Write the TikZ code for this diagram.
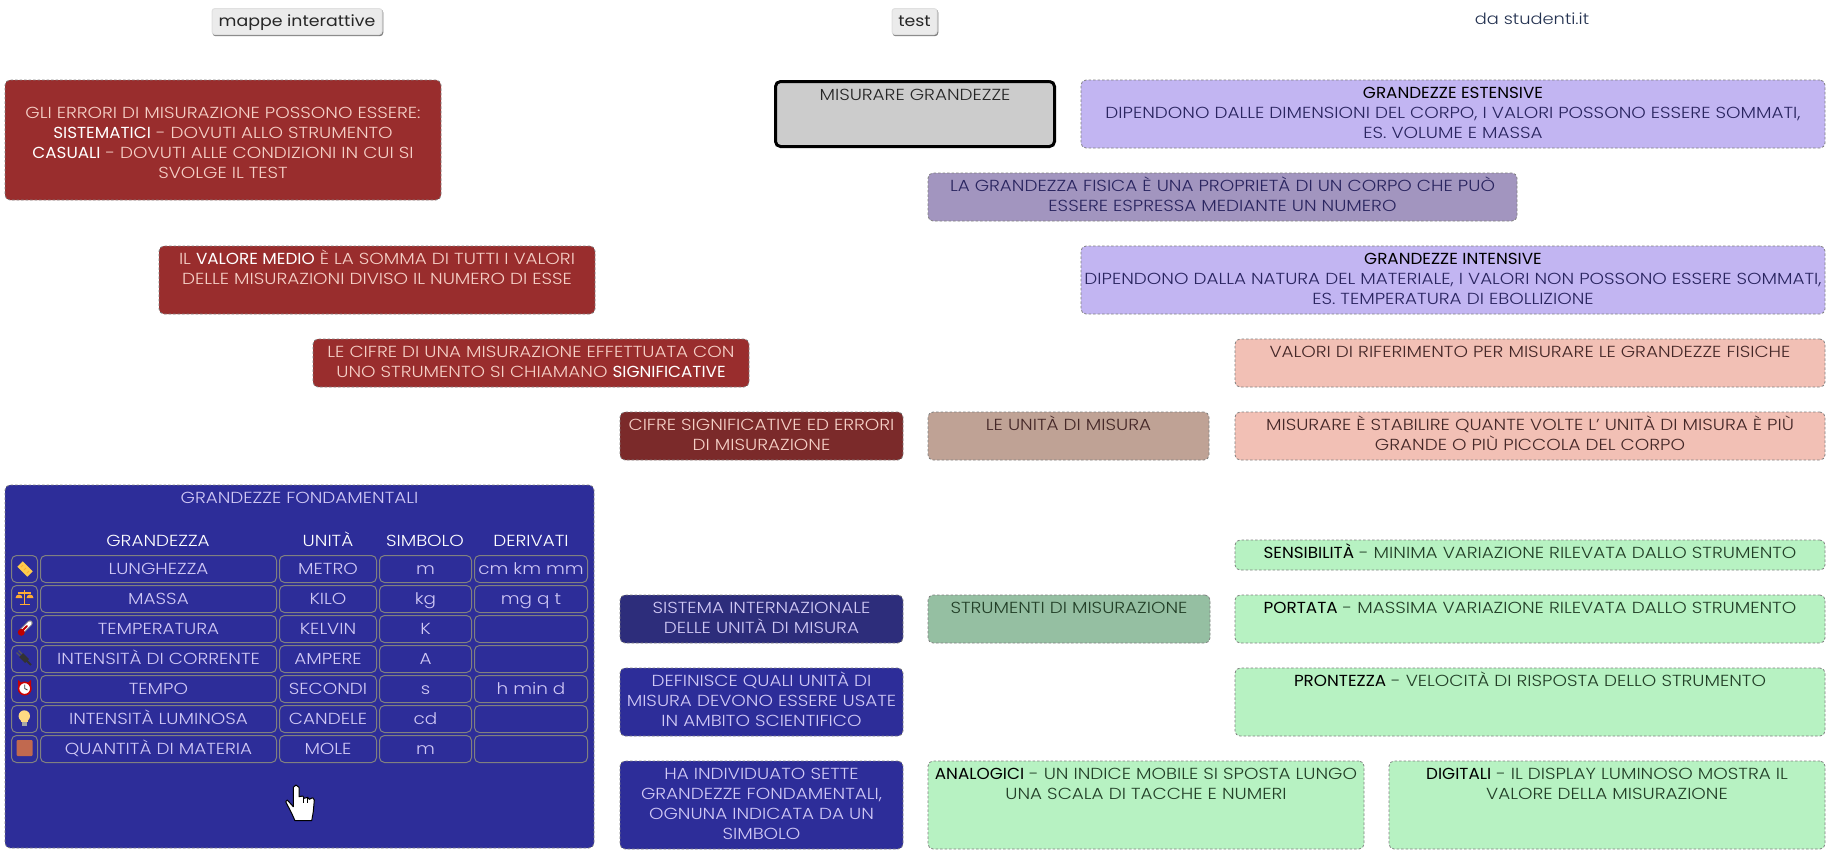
\documentclass[tikz,border=0pt]{standalone}
\usepackage{fontspec}
\setmainfont{Poppins Light}[FakeStretch=1.15,BoldFont=Poppins,BoldFeatures={FakeStretch=1.05}]
\newfontfamily\buttonfont{Poppins}[FakeStretch=1.12]
\definecolor{rosso}{HTML}{992D2D}
\definecolor{rossoscuro}{HTML}{7B2A2A}
\definecolor{lilla}{HTML}{C2B5F2}
\definecolor{lillascuro}{HTML}{A295BF}
\definecolor{rosa}{HTML}{F2C0B5}
\definecolor{rosascuro}{HTML}{BFA295}
\definecolor{verde}{HTML}{B7F2C2}
\definecolor{verdescuro}{HTML}{95BFA2}
\definecolor{blu}{HTML}{2D2D99}
\definecolor{bluscuro}{HTML}{2D2D7B}
\definecolor{grigio}{HTML}{808080}
\definecolor{testolilla}{HTML}{2A2560}
\definecolor{testorosa}{HTML}{452828}
\definecolor{testoverde}{HTML}{234028}
\definecolor{testosito}{HTML}{22304F}
\definecolor{chiarorosa}{HTML}{F5CFC6}
\definecolor{chiarolilla}{HTML}{D0C8F5}
\definecolor{giallo}{HTML}{FFCC4D}
\definecolor{arancio}{HTML}{FFAC33}
\definecolor{lampada}{HTML}{FFD983}
\definecolor{mattone}{HTML}{C1694F}
\newcommand{\wh}[1]{\textcolor{white}{\textbf{#1}}}
\newcommand{\bk}[1]{\textcolor{black}{\textbf{#1}}}
\tikzset{
  boxbase/.style={draw=grigio,line width=.8pt,dash pattern=on 2.5pt off 2pt,rounded corners=5pt,
    anchor=north west,align=center,inner sep=0pt,outer sep=0pt,
    font=\fontsize{16}{20}\selectfont},
  boxsize/.style n args={3}{minimum width=#1pt,text height=#2pt,text depth=#3pt},
  redbox/.style={boxbase,fill=rosso,text=chiarorosa},
  lilacbox/.style={boxbase,fill=lilla,text=testolilla},
  pinkbox/.style={boxbase,fill=rosa,text=testorosa},
  greenbox/.style={boxbase,fill=verde,text=testoverde},
  bluebox/.style={boxbase,fill=blu,text=chiarolilla},
  cell/.style={draw=grigio,line width=1pt,rounded corners=5pt,anchor=north west,inner sep=0pt,outer sep=0pt,
    minimum height=27pt,text height=12.5pt,text depth=2.5pt,text=chiarolilla,font=\fontsize{16}{20}\selectfont},
  headcell/.style={anchor=base,inner sep=0pt,text=white,font=\fontsize{16}{20}\selectfont},
  button/.style={draw=black!12,line width=1pt,fill=black!8,rounded corners=3pt,anchor=north west,inner sep=0pt,outer sep=0pt,
    minimum height=26pt,text height=13pt,text depth=3pt,text=black!85,font=\buttonfont\fontsize{15.5}{20}\selectfont,
    preaction={draw=black!50,fill=black!50,transform canvas={xshift=.8pt,yshift=-1.2pt}}}
}
\begin{document}
\begin{tikzpicture}[x=1pt,y=-1pt]
  \useasboundingbox (0,0) rectangle (1831,855);
  %Intestazione
  \node (mappe) [button,minimum width=170pt] at (212,8.5) {mappe interattive};
  \node (test) [button,minimum width=45pt] at (892,8.5) {test};
  \node (sito) [anchor=base,inner sep=0pt,text=testosito,font=\fontsize{15.5}{20}\selectfont] at (1532,24) {da studenti.it};
  %Errori
  \node (errori) [redbox,boxsize={436}{98.5}{21.5}] at (5,80) {GLI ERRORI DI MISURAZIONE POSSONO ESSERE:\\
    \wh{SISTEMATICI} - DOVUTI ALLO STRUMENTO\\
    \wh{CASUALI} - DOVUTI ALLE CONDIZIONI IN CUI SI\\
    SVOLGE IL TEST};
  \node (medio) [redbox,boxsize={436}{38.5}{29.5}] at (159,246) {IL \wh{VALORE MEDIO} È LA SOMMA DI TUTTI I VALORI\\
    DELLE MISURAZIONI DIVISO IL NUMERO DI ESSE};
  \node (cifre) [redbox,boxsize={436}{38.5}{9.5}] at (313,339) {LE CIFRE DI UNA MISURAZIONE EFFETTUATA CON\\
    UNO STRUMENTO SI CHIAMANO \wh{SIGNIFICATIVE}};
  \node (cifreerrori) [redbox,fill=rossoscuro,boxsize={283}{38.5}{9.5}] at (620,412) {CIFRE SIGNIFICATIVE ED ERRORI\\ DI MISURAZIONE};
  %Grandezze
  \node (misurare) [boxbase,draw=black,line width=3pt,dash pattern=on 100pt off 0pt,fill=black!20,boxsize={279}{19}{46},text=black!85] at (775.5,81.5) {MISURARE GRANDEZZE};
  \node (estensive) [lilacbox,boxsize={744}{58.5}{9.5}] at (1081,80) {\bk{GRANDEZZE ESTENSIVE}\\
    DIPENDONO DALLE DIMENSIONI DEL CORPO, I VALORI POSSONO ESSERE SOMMATI,\\
    ES. VOLUME E MASSA};
  \node (fisica) [lilacbox,fill=lillascuro,boxsize={589}{38.5}{9.5}] at (928,173) {LA GRANDEZZA FISICA È UNA PROPRIETÀ DI UN CORPO CHE PUÒ\\
    ESSERE ESPRESSA MEDIANTE UN NUMERO};
  \node (intensive) [lilacbox,boxsize={744}{58.5}{9.5}] at (1081,246) {\bk{GRANDEZZE INTENSIVE}\\
    DIPENDONO DALLA NATURA DEL MATERIALE, I VALORI NON POSSONO ESSERE SOMMATI,\\
    ES. TEMPERATURA DI EBOLLIZIONE};
  %Unita di misura
  \node (valori) [pinkbox,boxsize={590}{18.5}{29.5}] at (1235,339) {VALORI DI RIFERIMENTO PER MISURARE LE GRANDEZZE FISICHE};
  \node (unita) [pinkbox,fill=rosascuro,boxsize={281}{18.5}{29.5}] at (928,412) {LE UNITÀ DI MISURA};
  \node (stabilire) [pinkbox,boxsize={590}{38.5}{9.5}] at (1235,412) {MISURARE È STABILIRE QUANTE VOLTE L' UNITÀ DI MISURA È PIÙ\\
    GRANDE O PIÙ PICCOLA DEL CORPO};
  %Strumenti
  \node (sensibilita) [greenbox,boxsize={590}{18.5}{11.5}] at (1235,540) {\bk{SENSIBILITÀ} - MINIMA VARIAZIONE RILEVATA DALLO STRUMENTO};
  \node (strumenti) [greenbox,fill=verdescuro,boxsize={282}{18.5}{29.5}] at (928,595) {STRUMENTI DI MISURAZIONE};
  \node (portata) [greenbox,boxsize={590}{18.5}{29.5}] at (1235,595) {\bk{PORTATA} - MASSIMA VARIAZIONE RILEVATA DALLO STRUMENTO};
  \node (prontezza) [greenbox,boxsize={590}{18.5}{49.5}] at (1235,668) {\bk{PRONTEZZA} - VELOCITÀ DI RISPOSTA DELLO STRUMENTO};
  \node (analogici) [greenbox,boxsize={436}{38.5}{49.5}] at (928,761) {\bk{ANALOGICI} - UN INDICE MOBILE SI SPOSTA LUNGO\\
    UNA SCALA DI TACCHE E NUMERI};
  \node (digitali) [greenbox,boxsize={436}{38.5}{49.5}] at (1389,761) {\bk{DIGITALI} - IL DISPLAY LUMINOSO MOSTRA IL\\
    VALORE DELLA MISURAZIONE};
  %Sistema internazionale
  \node (sistema) [bluebox,fill=bluscuro,boxsize={283}{38.5}{9.5}] at (620,595) {SISTEMA INTERNAZIONALE\\ DELLE UNITÀ DI MISURA};
  \node (definisce) [bluebox,boxsize={283}{58.5}{9.5}] at (620,668) {DEFINISCE QUALI UNITÀ DI\\ MISURA DEVONO ESSERE USATE\\ IN AMBITO SCIENTIFICO};
  \node (sette) [bluebox,boxsize={283}{78.5}{9.5}] at (620,761) {HA INDIVIDUATO SETTE\\ GRANDEZZE FONDAMENTALI,\\ OGNUNA INDICATA DA UN\\ SIMBOLO};
  %Tabella
  \node (fondamentali) [bluebox,boxsize={589}{18.5}{344.5}] at (5,485) {GRANDEZZE FONDAMENTALI};
  \node (hgrandezza) [headcell] at (158,546) {GRANDEZZA};
  \node (hunita) [headcell] at (328,546) {UNITÀ};
  \node (hsimbolo) [headcell] at (425,546) {SIMBOLO};
  \node (hderivati) [headcell] at (531,546) {DERIVATI};
  %riga 1
  \node (i1) [cell,minimum width=26pt] at (11.5,555.5) {};
  \node (g1) [cell,minimum width=236pt] at (40.5,555.5) {LUNGHEZZA};
  \node (u1) [cell,minimum width=97pt] at (279.5,555.5) {METRO};
  \node (s1) [cell,minimum width=92pt] at (379.5,555.5) {m};
  \node (d1) [cell,minimum width=113pt] at (474.5,555.5) {cm km mm};
  %riga 2
  \node (i2) [cell,minimum width=26pt] at (11.5,585.5) {};
  \node (g2) [cell,minimum width=236pt] at (40.5,585.5) {MASSA};
  \node (u2) [cell,minimum width=97pt] at (279.5,585.5) {KILO};
  \node (s2) [cell,minimum width=92pt] at (379.5,585.5) {kg};
  \node (d2) [cell,minimum width=113pt] at (474.5,585.5) {mg q t};
  %riga 3
  \node (i3) [cell,minimum width=26pt] at (11.5,615.5) {};
  \node (g3) [cell,minimum width=236pt] at (40.5,615.5) {TEMPERATURA};
  \node (u3) [cell,minimum width=97pt] at (279.5,615.5) {KELVIN};
  \node (s3) [cell,minimum width=92pt] at (379.5,615.5) {K};
  \node (d3) [cell,minimum width=113pt] at (474.5,615.5) {};
  %riga 4
  \node (i4) [cell,minimum width=26pt] at (11.5,645.5) {};
  \node (g4) [cell,minimum width=236pt] at (40.5,645.5) {INTENSITÀ DI CORRENTE};
  \node (u4) [cell,minimum width=97pt] at (279.5,645.5) {AMPERE};
  \node (s4) [cell,minimum width=92pt] at (379.5,645.5) {A};
  \node (d4) [cell,minimum width=113pt] at (474.5,645.5) {};
  %riga 5
  \node (i5) [cell,minimum width=26pt] at (11.5,675.5) {};
  \node (g5) [cell,minimum width=236pt] at (40.5,675.5) {TEMPO};
  \node (u5) [cell,minimum width=97pt] at (279.5,675.5) {SECONDI};
  \node (s5) [cell,minimum width=92pt] at (379.5,675.5) {s};
  \node (d5) [cell,minimum width=113pt] at (474.5,675.5) {h min d};
  %riga 6
  \node (i6) [cell,minimum width=26pt] at (11.5,705.5) {};
  \node (g6) [cell,minimum width=236pt] at (40.5,705.5) {INTENSITÀ LUMINOSA};
  \node (u6) [cell,minimum width=97pt] at (279.5,705.5) {CANDELE};
  \node (s6) [cell,minimum width=92pt] at (379.5,705.5) {cd};
  \node (d6) [cell,minimum width=113pt] at (474.5,705.5) {};
  %riga 7
  \node (i7) [cell,minimum width=26pt] at (11.5,735.5) {};
  \node (g7) [cell,minimum width=236pt] at (40.5,735.5) {QUANTITÀ DI MATERIA};
  \node (u7) [cell,minimum width=97pt] at (279.5,735.5) {MOLE};
  \node (s7) [cell,minimum width=92pt] at (379.5,735.5) {m};
  \node (d7) [cell,minimum width=113pt] at (474.5,735.5) {};
  %Icone
    %righello
    \draw [line width=7.5pt,giallo] (20,564) -- (30,574);
    \draw [line width=1pt,arancio] (21,567) -- (23,565);
    \draw [line width=1pt,arancio] (24,570) -- (26,568);
    \draw [line width=1pt,arancio] (27,573) -- (29,571);
    %bilancia
    \draw [line width=1.2pt,arancio] (24.5,590) -- (24.5,604);
    \draw [line width=1.6pt,arancio] (19.5,604.5) -- (29.5,604.5);
    \draw [line width=1.2pt,arancio] (18,593) -- (31,593);
    \fill [arancio] (15.5,598) arc (180:360:3.5) -- cycle;
    \fill [arancio] (26.5,598) arc (180:360:3.5) -- cycle;
    %termometro
    \draw [line width=5.5pt,line cap=round,black!45] (22,631) -- (30,623);
    \draw [line width=3.8pt,line cap=round,white] (22,631) -- (30,623);
    \draw [line width=2pt,line cap=round,red!75!black] (22,631) -- (27,626);
    \fill [red!75!black] (21.3,632.3) circle (3.5);
    %spina
    \draw [line width=2pt,black!80] (26,660) -- (31,665);
    \draw [line width=5.5pt,black!80] (21,655) -- (27,661);
    \draw [line width=1.2pt,black!65] (22,654) -- (18.5,650.5);
    \draw [line width=1.2pt,black!65] (20,656) -- (16.5,652.5);
    %sveglia
    \fill [red!80!black] (18,680) -- (21,682.5) -- (18,685.5) -- cycle;
    \fill [red!80!black] (31,680) -- (28,682.5) -- (31,685.5) -- cycle;
    \draw [line width=1.6pt,fill=white,draw=red!80!black] (24.7,688.5) circle (6.2);
    \draw [line width=.9pt,black!75] (24.7,684.5) -- (24.7,688.5) -- (27.5,690);
    %lampadina
    \fill [lampada] (24.3,716) circle (5.7);
    \fill [lampada] (21,719) rectangle (27.6,722);
    \fill [black!35] (21.7,722) rectangle (26.9,725.5);
    %materia
    \fill [rounded corners=1pt,mattone] (16.7,740) rectangle (32.7,756);
  %Cursore
  \draw [fill=white,line width=1pt,line join=round] (285.7,801.7) -- (287.3,800) -- (293.3,806.7) -- (293.3,787.3) -- (296,785) -- (299,787.3) -- (299,796.7) -- (302.7,796) -- (304.3,798.3) -- (307.7,797.3) -- (309.3,799.3) -- (312.7,797.7) -- (314.3,800) -- (313.3,811.7) -- (311.7,820.7) -- (295,820.7) -- (291.7,813.3) -- cycle;
    \draw (302.7,797) -- (302.7,803);
    \draw (307.5,798) -- (307.5,803);
\end{tikzpicture}
\end{document}
